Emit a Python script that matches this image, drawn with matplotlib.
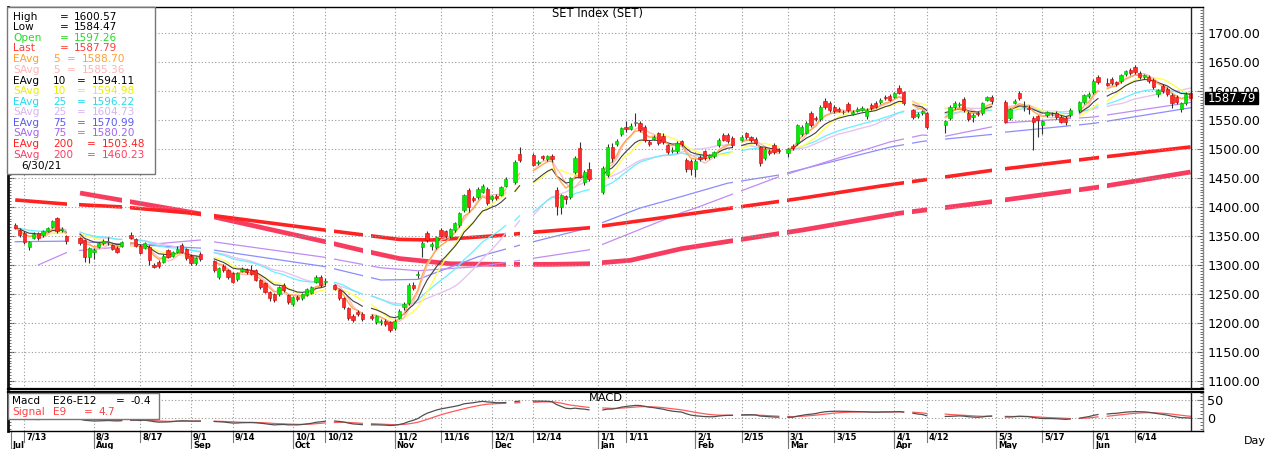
import numpy as np
import pandas as pd
import matplotlib
matplotlib.use("Agg")
import matplotlib.pyplot as plt
import matplotlib.transforms as mtransforms
from matplotlib.patches import Rectangle
from matplotlib.ticker import MultipleLocator

plt.rcParams['font.family'] = ['DejaVu Sans']

W, H = 1266, 449

# ---------------- data ----------------
start_date = "2020-07-09"
end_date = "2021-06-30"
holidays = ["2020-07-27", "2020-07-28", "2020-08-12", "2020-09-04", "2020-09-07",
            "2020-10-13", "2020-10-23", "2020-12-07", "2020-12-10", "2020-12-11",
            "2020-12-31", "2021-01-01", "2021-02-12", "2021-02-26", "2021-04-06",
            "2021-04-13", "2021-04-14", "2021-04-15", "2021-05-03", "2021-05-04",
            "2021-05-26", "2021-06-03"]

opens = [
    # Jul
    1368, 1360, 1355, 1331, 1346, 1355, 1351, 1359, 1366, 1381, 1360, 1350, 1347, 1343, 1314,
    # Aug
    1323, 1331, 1337, 1340, 1334, 1330, 1333, 1352, 1345, 1333, 1330, 1331, 1300, 1305, 1305,
    1325, 1315, 1322, 1334, 1328,
    # Sep
    1316, 1303, 1319, 1306, 1280, 1298, 1291, 1286, 1275, 1290, 1291, 1292, 1291, 1274, 1268,
    1253, 1250, 1250, 1265, 1248,
    # Oct
    1232, 1245, 1243, 1248, 1251, 1271, 1279, 1270, 1265, 1257, 1243, 1226, 1212, 1219, 1215,
    1212, 1201, 1201, 1203, 1201,
    # Nov
    1191, 1209, 1228, 1234, 1266, 1282, 1331, 1355, 1333, 1331, 1360, 1358, 1350, 1360, 1369,
    1395, 1429, 1415, 1417, 1426, 1431,
    # Dec
    1414, 1418, 1421, 1436, 1443, 1491, 1490, 1475, 1487, 1483, 1487, 1430, 1400, 1418, 1417,
    1460, 1502, 1443, 1466,
    # Jan
    1425, 1455, 1504, 1509, 1526, 1538, 1535, 1545, 1545, 1538, 1512, 1518, 1527, 1522, 1507,
    1497, 1497, 1513, 1481, 1479,
    # Feb
    1466, 1486, 1496, 1486, 1487, 1507, 1524, 1524, 1519, 1516, 1527, 1520, 1517, 1503, 1484,
    1497, 1507, 1498,
    # Mar
    1493, 1505, 1510, 1526, 1528, 1562, 1554, 1552, 1583, 1579, 1572, 1569, 1563, 1578, 1561,
    1566, 1568, 1556, 1576, 1579, 1581, 1590, 1592,
    # Apr
    1590, 1605, 1598, 1567, 1557, 1562, 1562, 1541, 1553, 1572, 1575, 1586, 1562, 1555, 1562,
    1562, 1585, 1590,
    # May
    1581, 1553, 1580, 1596, 1573, 1571, 1553, 1556, 1541, 1558, 1560, 1562, 1555, 1553, 1558,
    1567, 1581, 1592,
    # Jun
    1598, 1624, 1613, 1620, 1615, 1617, 1629, 1636, 1641, 1631, 1624, 1624, 1619, 1595, 1609,
    1603, 1593, 1590, 1569, 1579, 1597.26]

highs = [
    1372, 1363, 1358, 1342, 1356, 1357, 1360, 1366, 1378, 1383, 1365, 1352, 1349, 1345, 1331,
    1330, 1340, 1345, 1348, 1336, 1332, 1342, 1356, 1347, 1336, 1339, 1334, 1303, 1308, 1318,
    1327, 1324, 1332, 1337, 1330,
    1318, 1314, 1322, 1308, 1296, 1301, 1293, 1288, 1288, 1296, 1294, 1300, 1293, 1276, 1270,
    1255, 1252, 1264, 1268, 1250,
    1247, 1248, 1252, 1261, 1264, 1283, 1282, 1277, 1267, 1259, 1245, 1228, 1216, 1222, 1218,
    1215, 1214, 1206, 1206, 1203,
    1206, 1224, 1236, 1268, 1270, 1290, 1341, 1358, 1340, 1350, 1363, 1361, 1364, 1374, 1391,
    1422, 1432, 1419, 1434, 1440, 1434,
    1421, 1422, 1436, 1451, 1481, 1503, 1493, 1481, 1490, 1490, 1491, 1434, 1423, 1421, 1452,
    1487, 1512, 1463, 1478,
    1470, 1508, 1510, 1518, 1538, 1548, 1544, 1562, 1549, 1541, 1515, 1524, 1530, 1527, 1509,
    1503, 1513, 1516, 1484, 1482,
    1482, 1490, 1499, 1492, 1497, 1519, 1528, 1527, 1522, 1524, 1530, 1523, 1520, 1505, 1503,
    1500, 1510, 1502,
    1502, 1508, 1543, 1541, 1548, 1565, 1557, 1575, 1587, 1582, 1575, 1572, 1567, 1581, 1567,
    1572, 1574, 1571, 1579, 1582, 1588, 1593, 1595,
    1598, 1610, 1600, 1569, 1563, 1568, 1564, 1550, 1575, 1582, 1581, 1589, 1565, 1562, 1566,
    1581, 1592, 1593,
    1584, 1571, 1586, 1600, 1582, 1575, 1556, 1559, 1550, 1566, 1564, 1565, 1558, 1556, 1570,
    1583, 1595, 1599,
    1620, 1627, 1622, 1624, 1618, 1630, 1637, 1640, 1645, 1634, 1630, 1627, 1622, 1604, 1612,
    1606, 1596, 1593, 1581, 1598, 1600.57]

lows = [
    1362, 1348, 1336, 1325, 1344, 1343, 1349, 1357, 1364, 1355, 1357, 1336, 1335, 1305, 1304,
    1310, 1329, 1335, 1334, 1326, 1320, 1331, 1345, 1331, 1319, 1327, 1300, 1294, 1295, 1303,
    1312, 1313, 1320, 1321, 1308,
    1300, 1300, 1306, 1288, 1276, 1288, 1276, 1268, 1272, 1288, 1285, 1282, 1272, 1259, 1251,
    1238, 1236, 1247, 1254, 1232,
    1229, 1238, 1240, 1246, 1249, 1269, 1262, 1266, 1256, 1240, 1224, 1205, 1202, 1212, 1204,
    1205, 1198, 1197, 1195, 1184,
    1187, 1206, 1222, 1231, 1256, 1278, 1313, 1340, 1325, 1328, 1348, 1347, 1347, 1357, 1366,
    1392, 1392, 1409, 1414, 1424, 1404,
    1411, 1412, 1418, 1434, 1440, 1478, 1470, 1472, 1481, 1480, 1478, 1386, 1388, 1405, 1414,
    1457, 1450, 1438, 1444,
    1422, 1452, 1478, 1505, 1523, 1530, 1532, 1540, 1530, 1512, 1505, 1515, 1507, 1509, 1492,
    1493, 1493, 1505, 1461, 1455,
    1452, 1480, 1481, 1483, 1485, 1504, 1514, 1511, 1504, 1513, 1518, 1512, 1506, 1470, 1481,
    1490, 1492, 1493,
    1486, 1499, 1507, 1523, 1525, 1538, 1548, 1549, 1569, 1564, 1562, 1563, 1560, 1564, 1558,
    1563, 1565, 1552, 1568, 1570, 1578, 1584, 1582,
    1588, 1594, 1576, 1552, 1553, 1559, 1535, 1528, 1550, 1569, 1572, 1564, 1549, 1546, 1556,
    1559, 1582, 1578,
    1544, 1550, 1577, 1585, 1566, 1560, 1498, 1520, 1525, 1555, 1556, 1552, 1544, 1542, 1555,
    1564, 1578, 1588,
    1595, 1612, 1608, 1611, 1608, 1614, 1626, 1628, 1630, 1621, 1621, 1614, 1604, 1590, 1597,
    1592, 1570, 1578, 1564, 1576, 1584.47]

closes = [
    1364, 1352, 1340, 1340, 1353, 1347, 1358, 1363, 1376, 1358, 1362, 1341, 1338, 1314, 1329,
    1325, 1337, 1341, 1340.5, 1328, 1323, 1340, 1347, 1333, 1321, 1337, 1309, 1297, 1298, 1315,
    1314, 1322, 1328, 1323, 1312,
    1303, 1312, 1310, 1292, 1294, 1291, 1279, 1271, 1286, 1293, 1287, 1284, 1274, 1262, 1254,
    1243, 1240, 1262, 1256, 1236,
    1245, 1241, 1250, 1259, 1262, 1279, 1265, 1273, 1259, 1243, 1228, 1209, 1205, 1215, 1207,
    1208, 1212, 1204, 1198, 1188,
    1203, 1221, 1232, 1266, 1260, 1285, 1338, 1343, 1336, 1348, 1350, 1350, 1362, 1372, 1389,
    1420, 1400, 1412, 1431, 1436, 1407,
    1418, 1415, 1434, 1448, 1478, 1481, 1472, 1478, 1484, 1487, 1482, 1402, 1420, 1413, 1450,
    1484, 1452, 1460, 1449,
    1467, 1503, 1485, 1514, 1536, 1535, 1539, 1546, 1533, 1516, 1509, 1521, 1510, 1512, 1495,
    1499, 1510, 1508, 1466, 1466,
    1479, 1483, 1484, 1489, 1494, 1516, 1516, 1514, 1507, 1521, 1521, 1516, 1510, 1476, 1500,
    1493, 1495, 1496,
    1500, 1502, 1541, 1538, 1545, 1541, 1551, 1572, 1572, 1567, 1565, 1566, 1564, 1567, 1564,
    1569, 1571, 1568, 1571, 1573, 1585, 1587, 1585,
    1596, 1597, 1579, 1555, 1561, 1566, 1538, 1548, 1572, 1579, 1578, 1567, 1552, 1558, 1560,
    1579, 1590, 1583,
    1547, 1569, 1583, 1588, 1572, 1569, 1547, 1550, 1548, 1563, 1560, 1555, 1547, 1546, 1567,
    1581, 1593, 1594,
    1617, 1615, 1611, 1614, 1612, 1628, 1634, 1631, 1633, 1624, 1627, 1617, 1607, 1602, 1600,
    1595, 1579, 1581, 1579, 1595, 1587.79]

# long moving averages (sparse points)
ema200_dates = ["2020-07-09", "2020-07-24", "2020-08-11", "2020-09-03", "2020-10-12",
                "2020-10-22", "2020-11-03", "2020-11-12", "2020-11-24", "2020-12-03",
                "2020-12-15", "2020-12-30", "2021-01-27", "2021-02-08", "2021-03-04",
                "2021-03-29", "2021-04-30", "2021-06-02", "2021-06-30"]
ema200_vals = [1412, 1405, 1400, 1388, 1360, 1352, 1344, 1343, 1347, 1351,
               1357, 1364, 1386, 1395, 1415, 1436, 1463, 1485, 1503.48]

sma200_dates = ["2020-07-29", "2020-09-03", "2020-10-12", "2020-10-22", "2020-11-03",
                "2020-11-18", "2020-12-03", "2020-12-18", "2020-12-30", "2021-01-12",
                "2021-01-27", "2021-02-08", "2021-03-04", "2021-04-02", "2021-04-30",
                "2021-06-02", "2021-06-30"]
sma200_vals = [1424, 1388, 1340, 1325, 1311, 1302, 1301, 1301, 1302, 1308,
               1328, 1338, 1360, 1389, 1409, 1434, 1460.23]

ema75_dates = ["2020-07-09", "2020-07-24", "2020-07-29", "2020-09-03", "2020-10-12",
               "2020-10-28", "2020-11-09", "2020-11-26", "2020-12-09", "2020-12-30",
               "2021-01-14", "2021-01-27", "2021-02-10", "2021-02-25", "2021-03-31",
               "2021-04-09", "2021-04-16", "2021-04-30", "2021-05-05", "2021-06-01",
               "2021-06-30"]
ema75_vals = [1340, 1341, 1340, 1329, 1297, 1274, 1275, 1314, 1334, 1364,
              1398, 1418, 1441, 1455, 1503, 1513, 1517, 1525, 1529, 1544, 1570.99]

sma75_dates = ["2020-07-16", "2020-07-24", "2020-07-29", "2020-09-03", "2020-10-12",
               "2020-10-28", "2020-11-09", "2020-11-26", "2020-12-30", "2021-01-27",
               "2021-02-01", "2021-02-25", "2021-03-31", "2021-04-09", "2021-04-16",
               "2021-04-30", "2021-05-05", "2021-06-01", "2021-06-30"]
sma75_vals = [1300, 1321, 1325, 1343, 1313, 1295, 1290, 1297, 1326, 1390,
              1398, 1452, 1512, 1524, 1522, 1538, 1545, 1555, 1580.20]

tick_dates = ["2020-07-13", "2020-08-03", "2020-08-17", "2020-09-01", "2020-09-14",
              "2020-10-01", "2020-10-12", "2020-11-02", "2020-11-16", "2020-12-01",
              "2020-12-14", "2021-01-01", "2021-01-11", "2021-02-01", "2021-02-15",
              "2021-03-01", "2021-03-15", "2021-04-01", "2021-04-12", "2021-05-03",
              "2021-05-17", "2021-06-01", "2021-06-14"]
tick_labels = ["7/13", "8/3", "8/17", "9/1", "9/14", "10/1", "10/12", "11/2", "11/16",
               "12/1", "12/14", "1/1", "1/11", "2/1", "2/15", "3/1", "3/15", "4/1",
               "4/12", "5/3", "5/17", "6/1", "6/14"]
month_dates = ["2020-07-08", "2020-08-03", "2020-09-01", "2020-10-01", "2020-11-02",
               "2020-12-01", "2021-01-01", "2021-02-01", "2021-03-01", "2021-04-01",
               "2021-05-03", "2021-06-01"]
month_labels = ["Jul", "Aug", "Sep", "Oct", "Nov", "Dec", "Jan", "Feb", "Mar", "Apr",
                "May", "Jun"]

legend_names = ["High", "Low", "Open", "Last", "EAvg", "SAvg", "EAvg", "SAvg", "EAvg",
                "SAvg", "EAvg", "SAvg", "EAvg", "SAvg"]
legend_periods = ["", "", "", "", "5", "5", "10", "10", "25", "25", "75", "75", "200", "200"]
legend_values = ["1600.57", "1584.47", "1597.26", "1587.79", "1588.70", "1585.36",
                 "1594.11", "1594.98", "1596.22", "1604.73", "1570.99", "1580.20",
                 "1503.48", "1460.23"]
legend_colors = ["#000000", "#000000", "#22DD22", "#FF3A3A", "#FFA030", "#FFB4B4",
                 "#000000", "#EEEE00", "#22DDEE", "#D8B4EE", "#5A5AF0", "#A066F0",
                 "#FF2020", "#FF3C64"]
last_date_label = "6/30/21"
macd_label, macd_value = "E26-E12", "-0.4"
signal_label, signal_value = "E9", "4.7"

# ---------------- helpers ----------------
ORIGIN = np.datetime64("2020-07-13")


def xpos(ds):
    d = pd.to_datetime(pd.Index(ds)).values.astype("datetime64[D]")
    return np.busday_count(ORIGIN, d).astype(float)


all_days = pd.bdate_range(start_date, end_date)
hol = pd.to_datetime(holidays)
days = all_days[~all_days.isin(hol)]
assert len(days) == len(closes)
x = xpos(days)
x_all = xpos(all_days)

o = np.array(opens, float)
hh = np.array(highs, float)
ll = np.array(lows, float)
c = np.array(closes, float)
close = pd.Series(c, index=days)


def on_grid(s):
    return s.reindex(all_days).values


ema5 = on_grid(close.ewm(span=5, adjust=False).mean())
sma5 = on_grid(close.rolling(5, min_periods=1).mean())
ema10 = on_grid(close.ewm(span=10, adjust=False).mean())
sma10 = on_grid(close.rolling(10, min_periods=1).mean())
ema25 = on_grid(close.ewm(span=25, adjust=False).mean())
sma25 = on_grid(close.rolling(25, min_periods=1).mean())
macd_s = close.ewm(span=12, adjust=False).mean() - close.ewm(span=26, adjust=False).mean()
sig_s = macd_s.ewm(span=9, adjust=False).mean()
macd = on_grid(macd_s)
sig = on_grid(sig_s)

# ---------------- figure ----------------
fig = plt.figure(figsize=(W / 100, H / 100), dpi=100)


def fx(px):
    return px / W


def fy(py):
    return 1 - py / H


ax1 = fig.add_axes([fx(8), fy(389), (1203 - 8) / W, (389 - 7) / H])
ax2 = fig.add_axes([fx(8), fy(431), (1203 - 8) / W, (431 - 392) / H])
XL = (-3.566, 254.70)
ax1.set_xlim(XL)
ax2.set_xlim(XL)
ax1.set_ylim(1086, 1744.8)
ax2.set_ylim(-36, 72)

xt = xpos(tick_dates)
gkw = dict(color="#9a9a9a", lw=0.8, ls=(0, (1, 2)), zorder=1.6)
for xv in xt:
    ax1.axvline(xv, **gkw)
    ax2.axvline(xv, **gkw)
for yv in range(1100, 1701, 50):
    ax1.axhline(yv, **gkw)
for yv in (0, 50):
    ax2.axhline(yv, **gkw)

# long averages
ax1.plot(xpos(sma200_dates), sma200_vals, color="#F83C60", lw=3.4, zorder=1.1,
         solid_capstyle="butt")
ax1.plot(xpos(ema200_dates), ema200_vals, color="#FF2222", lw=2.6, zorder=1.15,
         solid_capstyle="butt")
ax1.plot(xpos(ema75_dates), ema75_vals, color="#8C8CFF", lw=0.9, zorder=1.1)
ax1.plot(xpos(sma75_dates), sma75_vals, color="#C08CF4", lw=0.9, zorder=1.1)
# holiday breaks in the long lines
for hx in xpos(holidays):
    ax1.axvspan(hx - 0.85, hx + 0.85, color="white", lw=0, zorder=1.3)

# short averages
ax1.plot(x_all, sma25, color="#E6C4F2", lw=1.0, zorder=2)
ax1.plot(x_all, ema25, color="#66F0FF", lw=0.9, zorder=2)
ax1.plot(x_all, sma10, color="#FFFF55", lw=1.0, zorder=2.1)
ax1.plot(x_all, sma5, color="#FFBCBC", lw=1.0, zorder=2.1)
ax1.plot(x_all, ema10, color="#404040", lw=0.8, zorder=2.2)
ax1.plot(x_all, ema5, color="#FFAA50", lw=1.0, zorder=2.2)

# candles
ax1.vlines(x, ll, hh, color="#333333", lw=0.8, zorder=3)
diff = c - o
body_lo = np.minimum(o, c)
body_h = np.maximum(np.abs(diff), 0.9)
up = diff > 1.0
dn = diff < -1.0
dj = ~(up | dn)
ax1.bar(x[up], body_h[up], bottom=body_lo[up], width=0.7, color="#00EE00",
        edgecolor="#00B000", lw=0.4, zorder=4)
ax1.bar(x[dn], body_h[dn], bottom=body_lo[dn], width=0.7, color="#FF2B2B",
        edgecolor="#D80000", lw=0.4, zorder=4)
ax1.bar(x[dj], body_h[dj], bottom=body_lo[dj], width=0.7, color="#888888",
        edgecolor="#666666", lw=0.4, zorder=4)

ax1.axvline(x[-1], color="#222222", lw=1.0, zorder=5)
ax2.axvline(x[-1], color="#222222", lw=1.0, zorder=5)

# MACD
ax2.plot(x_all, sig, color="#FF5A5A", lw=0.9, zorder=3)
ax2.plot(x_all, macd, color="#505050", lw=0.9, zorder=3.1)

# axes styling
for ax in (ax1, ax2):
    ax.spines["left"].set_linewidth(2.0)
    ax.spines["left"].set_color("#111111")
    ax.spines["right"].set_color("#888888")
    ax.spines["right"].set_linewidth(1.0)
    ax.tick_params(axis="x", which="both", bottom=False, top=False, labelbottom=False)
ax1.spines["top"].set_linewidth(1.0)
ax1.spines["bottom"].set_linewidth(1.6)
ax2.spines["top"].set_linewidth(1.6)
ax2.spines["bottom"].set_linewidth(1.0)

yt = np.arange(1100, 1701, 50)
ax1.yaxis.tick_right()
ax1.set_yticks(yt)
ax1.set_yticklabels([f"{v:.2f}" for v in yt], fontsize=9.2)
ax1.yaxis.set_minor_locator(MultipleLocator(5))
ax1.tick_params(axis="y", which="both", direction="in", left=True, right=True,
                labelleft=False, labelright=True, color="#555555", pad=3)
ax1.tick_params(axis="y", which="major", length=4, width=0.8)
ax1.tick_params(axis="y", which="minor", length=2.5, width=0.6)

ax2.yaxis.tick_right()
ax2.set_yticks([0, 50])
ax2.set_yticklabels(["0", "50"], fontsize=9.2)
ax2.yaxis.set_minor_locator(MultipleLocator(10))
ax2.tick_params(axis="y", which="both", direction="in", left=True, right=True,
                labelleft=False, labelright=True, color="#555555", pad=3)
ax2.tick_params(axis="y", which="major", length=4, width=0.8)
ax2.tick_params(axis="y", which="minor", length=2.5, width=0.6)

# x labels (manual)
trans = ax2.get_xaxis_transform()
toff = mtransforms.offset_copy(trans, fig=fig, x=2, y=0, units="dots")
axh = 431 - 392
for xv, lab in zip(xt, tick_labels):
    ax2.plot([xv, xv], [0, -(442 - 431) / axh], transform=trans, color="#777777",
             lw=0.8, clip_on=False)
    ax2.text(xv, -(437 - 431) / axh, lab, transform=toff, ha="left", va="center",
             fontsize=6, fontweight="bold", clip_on=False)
for xv, lab in zip(xpos(month_dates), month_labels):
    ax2.plot([xv, xv], [0, -(449 - 431) / axh], transform=trans, color="#777777",
             lw=0.8, clip_on=False)
    ax2.text(xv, -(446 - 431) / axh, lab, transform=toff, ha="left", va="center",
             fontsize=6, fontweight="bold", clip_on=False)

# titles
fig.text(fx(597), fy(14), "SET Index (SET)", ha="center", va="center", fontsize=8.3)
fig.text(fx(606), fy(398), "MACD", ha="center", va="center", fontsize=8.2)
fig.text(fx(1244), fy(441), "Day", ha="left", va="center", fontsize=8)

# price tag
fig.patches.append(Rectangle((fx(1205), fy(104)), 53 / W, 12 / H, transform=fig.transFigure,
                             facecolor="black", edgecolor="black", zorder=10))
fig.text(fx(1231.5), fy(98), "1587.79", ha="center", va="center", fontsize=8.4,
         color="white", zorder=11)
fig.text(fx(1199), fy(97), "·", ha="center", va="center", fontsize=8, color="#666666")

# legend box (main)
LFS = 7.6
fig.patches.append(Rectangle((fx(7), fy(174)), (155 - 7) / W, (174 - 7) / H,
                             transform=fig.transFigure, facecolor="white",
                             edgecolor="#777777", lw=1.0, zorder=10))
row_y = [16.7, 27, 38, 48, 59, 70, 81, 91, 102, 112, 123, 133, 144, 155]
for i, (nm, per, val, col) in enumerate(zip(legend_names, legend_periods, legend_values,
                                             legend_colors)):
    yv = row_y[i]
    if per == "":
        eqx, vx = 60, 74
    elif len(per) == 1:
        eqx, vx = 67, 82
    elif len(per) == 2:
        eqx, vx = 77, 92
    else:
        eqx, vx = 87, 102
    kw = dict(ha="left", va="center", fontsize=LFS, color=col, zorder=11)
    fig.text(fx(13), fy(yv), nm, **kw)
    if per:
        fig.text(fx(53), fy(yv), per, **kw)
    fig.text(fx(eqx), fy(yv), "=", **kw)
    fig.text(fx(vx), fy(yv), val, **kw)
fig.text(fx(21), fy(166), last_date_label, ha="left", va="center", fontsize=LFS,
         color="black", zorder=11)

# legend box (MACD)
fig.patches.append(Rectangle((fx(8), fy(419)), (159 - 8) / W, (419 - 393) / H,
                             transform=fig.transFigure, facecolor="white",
                             edgecolor="#777777", lw=1.0, zorder=10))
kw = dict(ha="left", va="center", fontsize=LFS, zorder=11)
fig.text(fx(12), fy(401), "Macd", color="black", **kw)
fig.text(fx(53), fy(401), macd_label, color="black", **kw)
fig.text(fx(116), fy(401), "=", color="black", **kw)
fig.text(fx(130), fy(401), macd_value, color="black", **kw)
fig.text(fx(12), fy(412), "Signal", color="#FF4040", **kw)
fig.text(fx(53), fy(412), signal_label, color="#FF4040", **kw)
fig.text(fx(84), fy(412), "=", color="#FF4040", **kw)
fig.text(fx(98), fy(412), signal_value, color="#FF4040", **kw)

fig.savefig("out.png", dpi=100)
